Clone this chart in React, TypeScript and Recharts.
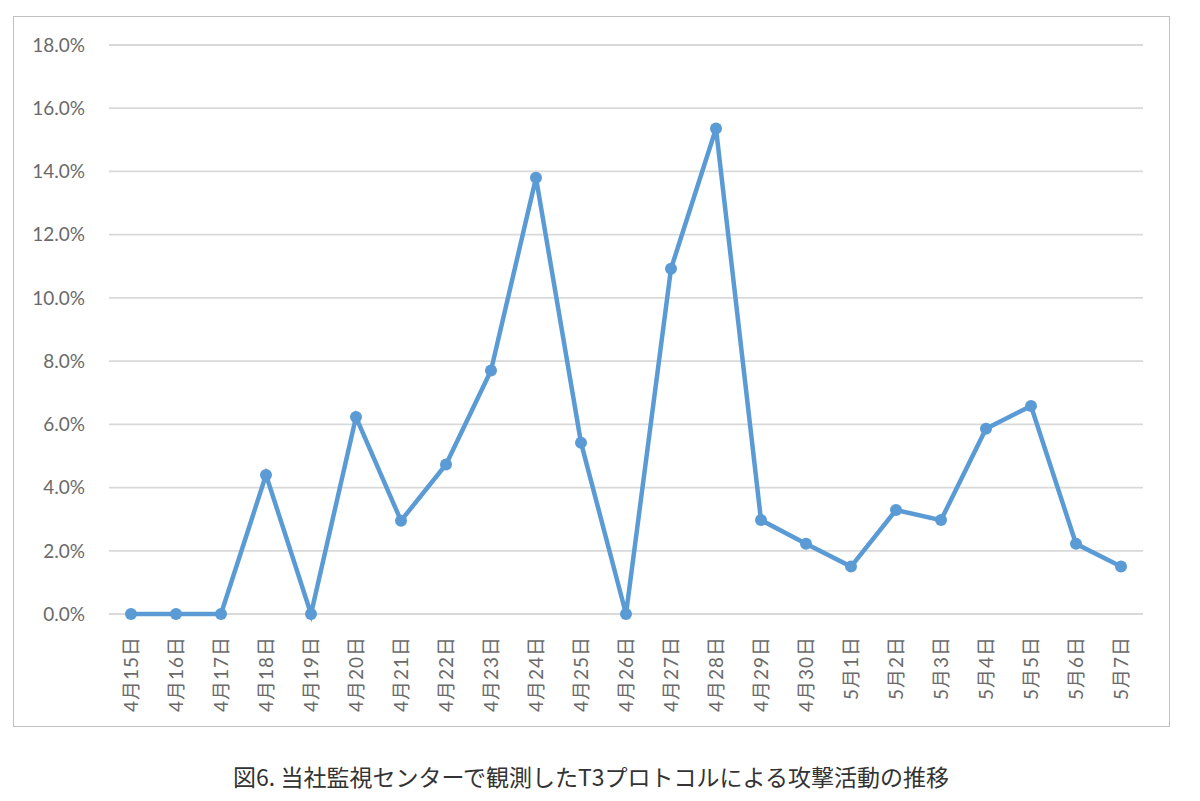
import React from 'react';
import { LineChart, Line, XAxis, YAxis, CartesianGrid } from 'recharts';

const categories = [
  '4月15日', '4月16日', '4月17日', '4月18日', '4月19日', '4月20日', '4月21日', '4月22日',
  '4月23日', '4月24日', '4月25日', '4月26日', '4月27日', '4月28日', '4月29日', '4月30日',
  '5月1日', '5月2日', '5月3日', '5月4日', '5月5日', '5月6日', '5月7日',
];

const attackRate = [
  0.0, 0.0, 0.0, 4.4, 0.0, 6.23, 2.95, 4.73,
  7.7, 13.8, 5.42, 0.0, 10.92, 15.36, 2.97, 2.22,
  1.5, 3.29, 2.97, 5.86, 6.58, 2.22, 1.5,
];

const yTicks = [0, 2, 4, 6, 8, 10, 12, 14, 16, 18];

const caption = '図6. 当社監視センターで観測したT3プロトコルによる攻撃活動の推移';

const data = categories.map((c, i) => ({ name: c, value: attackRate[i] }));

const XTick = (props: any) => {
  const { x, y, payload } = props;
  return (
    <text
      x={x}
      y={y + 22}
      transform={`rotate(-90, ${x}, ${y + 22})`}
      textAnchor="end"
      dy="0.36em"
      fill="#6a6a6a"
      fontSize={19}
      letterSpacing={1}
      fontFamily="Lato, 'Noto Sans CJK JP', sans-serif"
    >
      {payload.value}
    </text>
  );
};

export default function App() {
  return (
    <div style={{ position: 'absolute', left: 0, top: 0, width: 1200, height: 801, background: '#fff' }}>
      <div
        style={{
          position: 'absolute',
          left: 13,
          top: 16,
          width: 1157,
          height: 711,
          border: '1.5px solid #c0c0c0',
          boxSizing: 'border-box',
        }}
      />
      <div style={{ position: 'absolute', left: 0, top: 0 }}>
        <LineChart
          width={1200}
          height={801}
          data={data}
          margin={{ top: 45, right: 57, bottom: 87, left: 0 }}
        >
          <CartesianGrid vertical={false} stroke="#d9d9d9" strokeWidth={1.8} />
          <XAxis
            dataKey="name"
            interval={0}
            axisLine={false}
            tickLine={false}
            tickSize={0}
            tickMargin={0}
            height={100}
            padding={{ left: 22, right: 22 }}
            tick={<XTick />}
          />
          <YAxis
            width={109}
            domain={[0, 18]}
            ticks={yTicks}
            axisLine={false}
            tickLine={false}
            tickSize={0}
            tickMargin={24}
            tickFormatter={(v: number) => v.toFixed(1) + '%'}
            tick={{ fill: '#6a6a6a', fontSize: 19, fontFamily: "Lato, 'Noto Sans', sans-serif" }}
          />
          <Line
            type="linear"
            dataKey="value"
            stroke="#5b9bd5"
            strokeWidth={4.5}
            dot={{ r: 6, fill: '#5b9bd5', stroke: '#5b9bd5', strokeWidth: 0 }}
            isAnimationActive={false}
          />
        </LineChart>
      </div>
      <div
        style={{
          position: 'absolute',
          left: 0,
          width: 1182,
          top: 761,
          textAlign: 'center',
          fontSize: 23,
          color: '#333333',
          fontFamily: "'Noto Sans CJK JP', sans-serif",
          lineHeight: '30px',
        }}
      >
        {caption}
      </div>
    </div>
  );
}
